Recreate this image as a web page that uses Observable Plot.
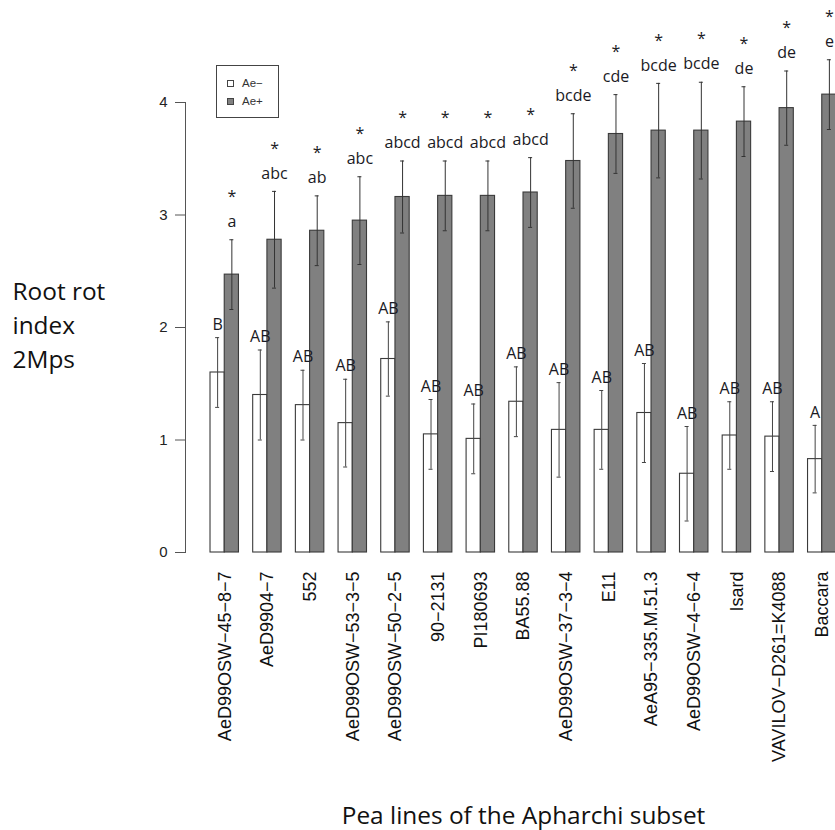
<!DOCTYPE html>
<html>
<head>
<meta charset="utf-8">
<script src="https://cdn.jsdelivr.net/npm/d3@7"></script>
<script src="https://cdn.jsdelivr.net/npm/@observablehq/plot@0.6"></script>
<style>
  body { margin: 0; background: #fff; }
  #wrap { position: relative; width: 835px; height: 830px; overflow: hidden; background: #fff; }
  .legend { position: absolute; left: 216px; top: 65px; width: 63px; height: 53px; box-sizing: border-box;
            border: 1px solid #444; font: 11.5px "Liberation Sans", Arial, sans-serif; color: #333; }
  .legend .row { position: absolute; left: 10px; display: flex; align-items: center; height: 12px; }
  .legend .sw { width: 5px; height: 5px; border: 1px solid #444; margin-right: 8px; }
</style>
</head>
<body>
<div id="wrap"></div>
<script>
// ---- data ----
const lines = ["AeD99OSW−45−8−7", "AeD9904−7", "552", "AeD99OSW−53−3−5", "AeD99OSW−50−2−5",
  "90−2131", "PI180693", "BA55.88", "AeD99OSW−37−3−4", "E11", "AeA95−335.M.51.3",
  "AeD99OSW−4−6−4", "Isard", "VAVILOV−D261=K4088", "Baccara"];
const aeMinus   = [1.60, 1.40, 1.31, 1.15, 1.72, 1.05, 1.01, 1.34, 1.09, 1.09, 1.24, 0.70, 1.04, 1.03, 0.83];
const aeMinusSE = [0.31, 0.40, 0.31, 0.39, 0.33, 0.31, 0.31, 0.31, 0.42, 0.35, 0.44, 0.42, 0.30, 0.31, 0.30];
const aePlus    = [2.47, 2.78, 2.86, 2.95, 3.16, 3.17, 3.17, 3.20, 3.48, 3.72, 3.75, 3.75, 3.83, 3.95, 4.07];
const aePlusSE  = [0.31, 0.43, 0.31, 0.39, 0.32, 0.31, 0.31, 0.31, 0.42, 0.35, 0.42, 0.43, 0.31, 0.33, 0.31];
const lettersMinus = ["B", "AB", "AB", "AB", "AB", "AB", "AB", "AB", "AB", "AB", "AB", "AB", "AB", "AB", "A"];
const lettersPlus  = ["a", "abc", "ab", "abc", "abcd", "abcd", "abcd", "abcd", "bcde", "cde", "bcde", "bcde", "de", "de", "e"];
const signif       = ["*", "*", "*", "*", "*", "*", "*", "*", "*", "*", "*", "*", "*", "*", "*"];
const yTicks = [0, 1, 2, 3, 4];
const seriesNames = ["Ae−", "Ae+"];
const yTitle = "Root rot\nindex\n2Mps";
const xTitle = "Pea lines of the Apharchi subset";

// ---- table ----
const data = lines.map((name, i) => ({
  name,
  m: aeMinus[i], mlo: aeMinus[i] - aeMinusSE[i], mhi: aeMinus[i] + aeMinusSE[i],
  p: aePlus[i],  plo: aePlus[i] - aePlusSE[i],  phi: aePlus[i] + aePlusSE[i],
  lm: lettersMinus[i], lp: lettersPlus[i], s: signif[i]
}));

// ---- layout ----
const W = 835, H = 830;
const mL = 185, mR = -26, mT = 102, mB = 278;
const padIn = 1 / 3, padOut = 0.586;
const bw = d3.scaleBand(lines, [mL, W - mR]).paddingInner(padIn).paddingOuter(padOut).bandwidth();
const half = bw / 2, q = bw / 4;
const ink = "#3a3a3a";
const labelFont = "'Open Sans', sans-serif";

const chart = Plot.plot({
  width: W, height: H,
  marginLeft: mL, marginRight: mR, marginTop: mT, marginBottom: mB,
  style: { fontFamily: "'Liberation Sans', Arial, sans-serif", background: "#fff", overflow: "visible" },
  x: { domain: lines, paddingInner: padIn, paddingOuter: padOut, round: false, axis: null },
  y: { domain: [0, 4], nice: false, axis: null },
  marks: [
    Plot.barY(data, { x: "name", y: "m", fill: "white", stroke: ink, strokeWidth: 1.1, insetRight: half }),
    Plot.barY(data, { x: "name", y: "p", fill: "#808080", stroke: ink, strokeWidth: 1.1, insetLeft: half }),
    // error bars
    Plot.ruleX(data, { x: "name", y1: "mlo", y2: "mhi", dx: -q, stroke: "#444", strokeWidth: 1 }),
    Plot.ruleX(data, { x: "name", y1: "plo", y2: "phi", dx: q, stroke: "#333", strokeWidth: 1 }),
    Plot.tickY(data, { x: "name", y: "mhi", dx: -q, insetLeft: half - 2, insetRight: half - 2, stroke: "#444" }),
    Plot.tickY(data, { x: "name", y: "mlo", dx: -q, insetLeft: half - 2, insetRight: half - 2, stroke: "#444" }),
    Plot.tickY(data, { x: "name", y: "phi", dx: q, insetLeft: half - 2, insetRight: half - 2, stroke: "#333" }),
    Plot.tickY(data, { x: "name", y: "plo", dx: q, insetLeft: half - 2, insetRight: half - 2, stroke: "#333" }),
    // letters
    Plot.text(data, { x: "name", y: "mhi", text: "lm", dx: -q, dy: -13, fontSize: 16, fontFamily: labelFont, fill: "#1a1a24" }),
    Plot.text(data, { x: "name", y: "phi", text: "lp", dx: q, dy: -18, fontSize: 16, fontFamily: labelFont, fill: "#1a1a24" }),
    Plot.text(data, { x: "name", y: "phi", text: "s", dx: q, dy: -43, fontSize: 16, fontFamily: labelFont, fill: "#1a1a24" }),
    // axes
    Plot.axisY({ ticks: yTicks, tickFormat: "d", tickSize: 10, tickPadding: 8, fontSize: 15, label: null, stroke: "#555", color: "#222" }),
    Plot.frame({ anchor: "left", stroke: "#555" }),
    Plot.axisX({ tickRotate: -90, tickSize: 0, tickPadding: 19, fontSize: 18, label: null, color: "#111" }),
    // titles
    Plot.text([yTitle], { frameAnchor: "left", dx: -173, dy: -4, textAnchor: "start", fontSize: 24.4, lineHeight: 1.39, fontFamily: labelFont, fill: "#111" }),
    Plot.text([xTitle], { frameAnchor: "bottom", dy: 271, fontSize: 24.4, fontFamily: labelFont, fill: "#111" })
  ]
});

const wrap = document.getElementById("wrap");
wrap.appendChild(chart);

// legend
const leg = document.createElement("div");
leg.className = "legend";
const fills = ["white", "#808080"];
seriesNames.forEach((n, i) => {
  const row = document.createElement("div");
  row.className = "row";
  row.style.top = (11 + i * 18) + "px";
  const sw = document.createElement("span");
  sw.className = "sw";
  sw.style.background = fills[i];
  const t = document.createElement("span");
  t.textContent = n;
  row.appendChild(sw); row.appendChild(t);
  leg.appendChild(row);
});
wrap.appendChild(leg);
</script>
</body>
</html>
